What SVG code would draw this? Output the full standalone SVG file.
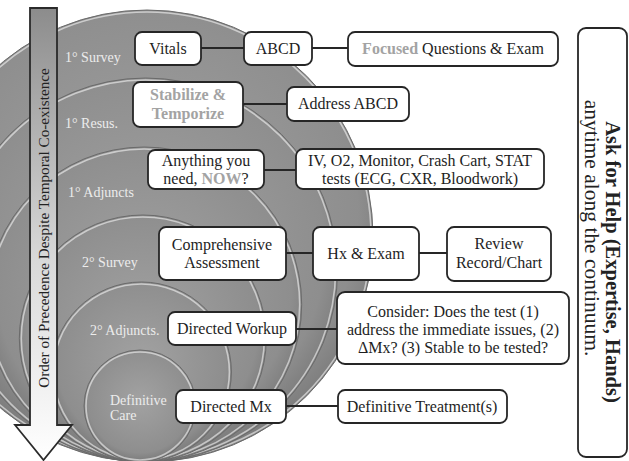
<svg xmlns="http://www.w3.org/2000/svg" width="629" height="461" viewBox="0 0 629 461" font-family="Liberation Serif, Times New Roman, serif">
<defs>
<radialGradient id="sph" cx="50%" cy="45%" r="55%">
<stop offset="0" stop-color="#a2a2a2"/>
<stop offset="0.85" stop-color="#8e8e8e"/>
<stop offset="1" stop-color="#7a7a7a"/>
</radialGradient>
<linearGradient id="arr" x1="0" y1="0" x2="0" y2="1">
<stop offset="0" stop-color="#8c8c8c"/>
<stop offset="0.55" stop-color="#d8d8d8"/>
<stop offset="1" stop-color="#ffffff"/>
</linearGradient>
<style>
.c{fill:url(#sph);stroke:#6a6a6a;stroke-width:1}
.hl{fill:none;stroke:#ffffff;stroke-opacity:0.55;stroke-width:1.6}
.lbl{font-size:14px;fill:#ececec}
.box{fill:#ffffff;stroke:#262626;stroke-width:1.8}
.t{font-size:16px;fill:#1e1e1e;text-anchor:middle}
.g{fill:#a3a3a3;font-weight:bold}
.ln{stroke:#262626;stroke-width:2;fill:none}
</style>
</defs>
<rect width="629" height="461" fill="#ffffff"/>
<g id="circles">
<circle class="c" cx="147" cy="236" r="226"/><circle class="hl" cx="147" cy="236" r="224"/>
<circle class="c" cx="145.6" cy="270" r="192"/><circle class="hl" cx="145.6" cy="270" r="190"/>
<circle class="c" cx="144.2" cy="304.5" r="157.5"/><circle class="hl" cx="144.2" cy="304.5" r="155.5"/>
<circle class="c" cx="142.8" cy="338.5" r="123.5"/><circle class="hl" cx="142.8" cy="338.5" r="121.5"/>
<circle class="c" cx="141.4" cy="372" r="90"/><circle class="hl" cx="141.4" cy="372" r="88"/>
<circle class="c" cx="140" cy="406" r="56"/><circle class="hl" cx="140" cy="406" r="54"/>
</g>
<g id="levels" font-family="Liberation Serif, Times New Roman, serif">
<text class="lbl" x="65" y="62">1° Survey</text>
<text class="lbl" x="65" y="128">1° Resus.</text>
<text class="lbl" x="68" y="197">1° Adjuncts</text>
<text class="lbl" x="82" y="267">2° Survey</text>
<text class="lbl" x="90" y="335">2° Adjuncts.</text>
<text class="lbl" x="110" y="405">Definitive</text>
<text class="lbl" x="110" y="420">Care</text>
</g>
<g id="arrow">
<path d="M30,8 H57 V425 H72 L43.5,460 L15,425 H30 Z" fill="url(#arr)" stroke="#2a2a2a" stroke-width="1.8" stroke-linejoin="miter"/>
<text transform="translate(49,228) rotate(-90)" text-anchor="middle" font-family="Liberation Serif, Times New Roman, serif" font-size="15.2" fill="#222222">Order of Precedence Despite Temporal Co-existence</text>
</g>
<g id="connectors">
<line class="ln" x1="201" y1="48" x2="244" y2="48"/>
<line class="ln" x1="312" y1="48" x2="348" y2="48"/>
<line class="ln" x1="243" y1="104" x2="287" y2="104"/>
<line class="ln" x1="264" y1="170" x2="296" y2="170"/>
<line class="ln" x1="286" y1="253" x2="313" y2="253"/>
<line class="ln" x1="419" y1="253" x2="447" y2="253"/>
<line class="ln" x1="296" y1="329" x2="337" y2="329"/>
<line class="ln" x1="286" y1="406" x2="338" y2="406"/>
</g>
<g id="nodes" font-family="Liberation Serif, Times New Roman, serif">
<g id="vitals"><rect class="box" x="135" y="32" width="66" height="33" rx="7"/><text class="t" x="168" y="54">Vitals</text></g>
<g id="abcd"><rect class="box" x="244" y="32" width="68" height="33" rx="7"/><text class="t" x="278" y="54">ABCD</text></g>
<g id="focused"><rect class="box" x="348" y="32" width="210" height="34" rx="7"/><text class="t" x="453" y="54"><tspan class="g">Focused</tspan> Questions &amp; Exam</text></g>
<g id="stabilize"><rect class="box" x="133" y="82" width="110" height="45" rx="7"/><text class="t g" x="188" y="100">Stabilize &amp;</text><text class="t g" x="188" y="119">Temporize</text></g>
<g id="address"><rect class="box" x="287" y="87" width="122" height="34" rx="7"/><text class="t" x="348" y="109">Address ABCD</text></g>
<g id="anything"><rect class="box" x="148" y="150" width="116" height="39" rx="7"/><text class="t" x="206" y="166">Anything you</text><text class="t" x="206" y="184">need, <tspan class="g">NOW</tspan>?</text></g>
<g id="adjuncts"><rect class="box" x="296" y="149" width="248" height="40" rx="7"/><text class="t" x="420" y="166">IV, O2, Monitor, Crash Cart, STAT</text><text class="t" x="420" y="184">tests (ECG, CXR, Bloodwork)</text></g>
<g id="comprehensive"><rect class="box" x="159" y="227" width="127" height="53" rx="7"/><text class="t" x="222" y="250">Comprehensive</text><text class="t" x="222" y="268">Assessment</text></g>
<g id="hx"><rect class="box" x="313" y="227" width="106" height="53" rx="7"/><text class="t" x="366" y="259">Hx &amp; Exam</text></g>
<g id="review"><rect class="box" x="447" y="227" width="104" height="54" rx="7"/><text class="t" x="499" y="249">Review</text><text class="t" x="499" y="268">Record/Chart</text></g>
<g id="workup"><rect class="box" x="168" y="312" width="128" height="33" rx="7"/><text class="t" x="232" y="334">Directed Workup</text></g>
<g id="consider"><rect class="box" x="337" y="292" width="232" height="72" rx="8"/><text class="t" x="453" y="317">Consider: Does the test (1)</text><text class="t" x="453" y="335">address the immediate issues, (2)</text><text class="t" x="453" y="353">ΔMx? (3) Stable to be tested?</text></g>
<g id="mx"><rect class="box" x="176" y="390" width="110" height="33" rx="7"/><text class="t" x="231" y="412">Directed Mx</text></g>
<g id="treatment"><rect class="box" x="338" y="390" width="169" height="33" rx="7"/><text class="t" x="422" y="412">Definitive Treatment(s)</text></g>
<g id="help"><rect x="578" y="28" width="49" height="429" rx="8" fill="#ffffff" stroke="#262626" stroke-width="1.8"/>
<text transform="translate(606,262) rotate(90)" text-anchor="middle" font-size="20.5" font-weight="bold" fill="#222222">Ask for Help (Expertise, Hands)</text>
<text transform="translate(585,228) rotate(90)" text-anchor="middle" font-size="21.5" fill="#222222">anytime along the continuum.</text>
</g>
</g>
</svg>
